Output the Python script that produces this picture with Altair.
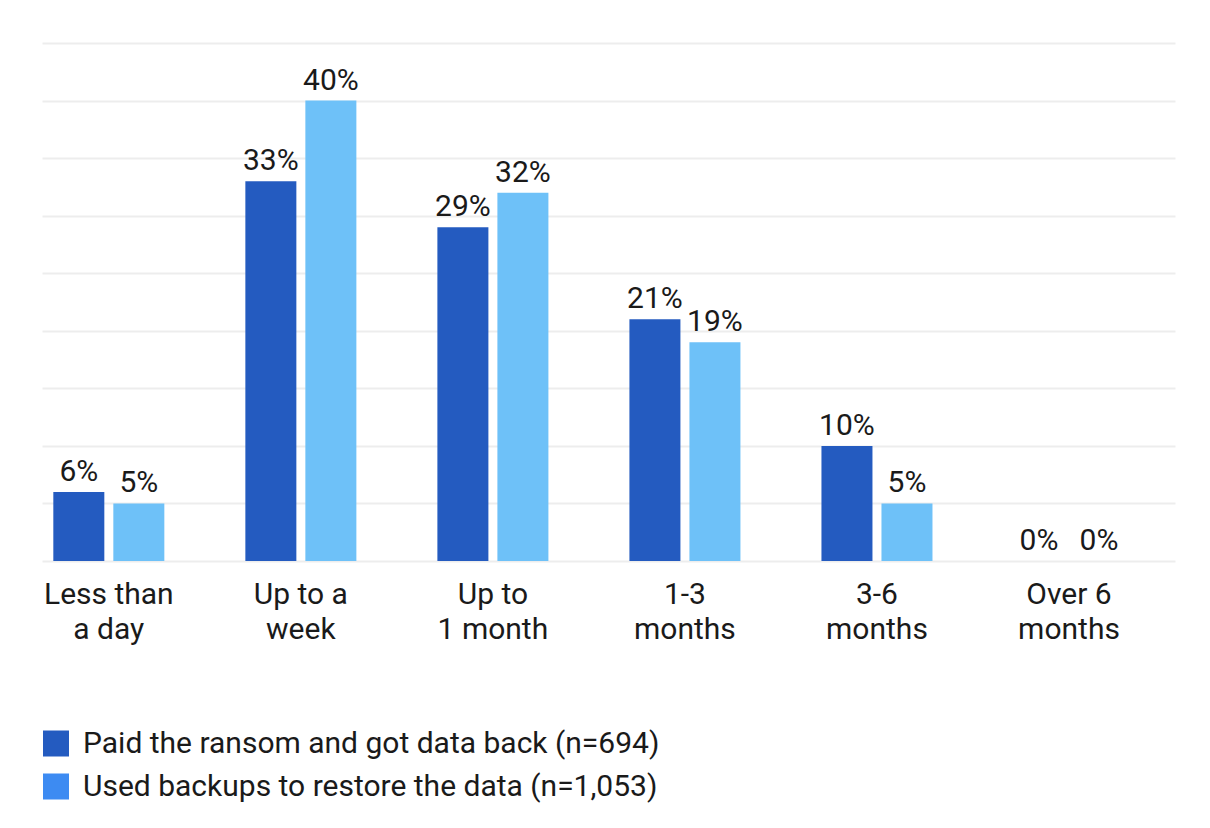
import altair as alt
import pandas as pd

categories = ["Less than a day", "Up to a week", "Up to 1 month", "1-3 months", "3-6 months", "Over 6 months"]
category_lines = [["Less than", "a day"], ["Up to a", "week"], ["Up to", "1 month"], ["1-3", "months"], ["3-6", "months"], ["Over 6", "months"]]
series = ["Paid the ransom and got data back (n=694)", "Used backups to restore the data (n=1,053)"]
paid_values = [6, 33, 29, 21, 10, 0]
backup_values = [5, 40, 32, 19, 5, 0]
bar_colors = ["#245BC0", "#6EC1F8"]
legend_colors = ["#245BC0", "#3D8BF2"]

rows = []
for i, c in enumerate(categories):
    rows.append({"category": c, "series": series[0], "value": paid_values[i]})
    rows.append({"category": c, "series": series[1], "value": backup_values[i]})
df = pd.DataFrame(rows)

FONT = "Roboto"
FS = 30
TEXT_COLOR = "#1A1A1A"

label_map = "{" + ",".join(
    "'%s': [%s]" % (c, ",".join("'%s'" % l for l in lines)) for c, lines in zip(categories, category_lines)
) + "}"

base = alt.Chart(df).encode(
    x=alt.X(
        "category:N",
        sort=categories,
        scale=alt.Scale(paddingInner=0.4, paddingOuter=0.15, align=0.16),
        axis=alt.Axis(
            title=None,
            labelAngle=0,
            domain=False,
            ticks=False,
            labelFont=FONT,
            labelFontSize=FS,
            labelColor=TEXT_COLOR,
            labelPadding=18,
            labelLineHeight=35,
            labelExpr=label_map + "[datum.label]",
        ),
    ),
    xOffset=alt.XOffset("series:N", sort=series, scale=alt.Scale(paddingInner=0.15, paddingOuter=0.035)),
    y=alt.Y(
        "value:Q",
        scale=alt.Scale(domain=[0, 45], nice=False),
        axis=alt.Axis(
            title=None,
            values=list(range(0, 50, 5)),
            labels=False,
            ticks=False,
            domain=False,
            grid=True,
            gridColor="#EDEDED",
            gridWidth=2,
        ),
    ),
)

bars = base.mark_bar().encode(
    color=alt.Color("series:N", sort=series, scale=alt.Scale(domain=series, range=bar_colors), legend=None)
)

labels = base.transform_calculate(label="datum.value + '%'").mark_text(
    baseline="alphabetic", dy=-11, fontSize=FS, font=FONT, color=TEXT_COLOR
).encode(text="label:N")

main = alt.layer(bars, labels).properties(width=1133, height=518)

legend_df = pd.DataFrame({"series": series})
leg_base = alt.Chart(legend_df).encode(
    y=alt.Y("series:N", sort=series, axis=None, scale=alt.Scale(paddingInner=0, paddingOuter=0))
)
leg_sq = leg_base.mark_square(size=676, opacity=1).encode(
    x=alt.value(14),
    color=alt.Color("series:N", sort=series, scale=alt.Scale(domain=series, range=legend_colors), legend=None),
)
leg_txt = leg_base.mark_text(align="left", baseline="middle", fontSize=FS, font=FONT, color=TEXT_COLOR).encode(
    x=alt.value(41), text="series:N"
)
legend = alt.layer(leg_sq, leg_txt).properties(width=1133, height=86)

chart = alt.vconcat(main, legend, spacing=78).resolve_scale(color="independent").properties(
    padding={"left": 34, "top": 35, "right": 5, "bottom": 5},
    background="white",
).configure_view(stroke=None)

chart.save("out.html", embed_options={"renderer": "svg", "actions": False})
